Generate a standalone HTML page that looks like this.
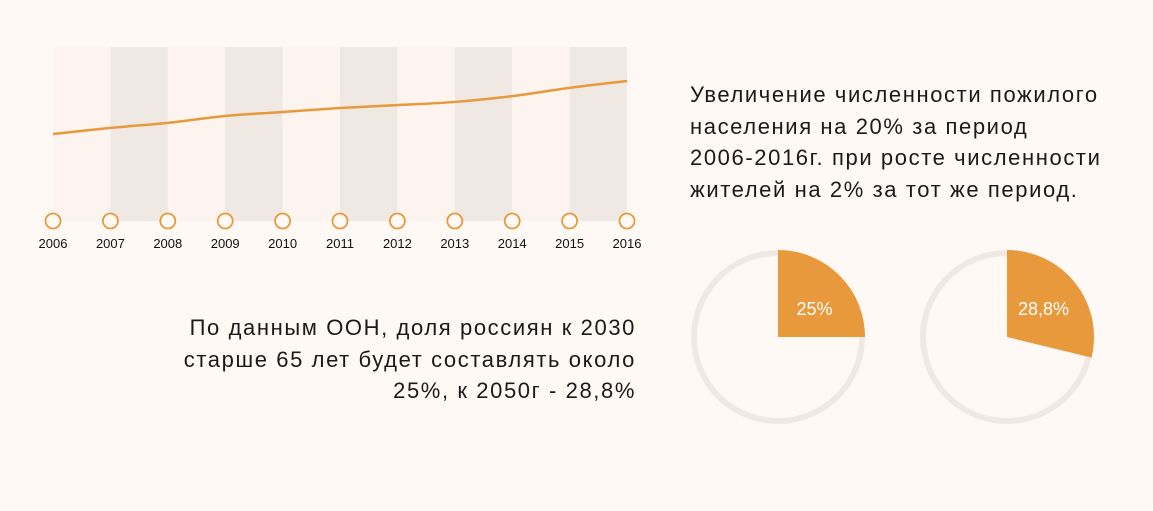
<!DOCTYPE html>
<html><head><meta charset="utf-8"><style>
body{margin:0;width:1153px;height:511px;background:#fff9f6;font-family:"Liberation Sans",sans-serif;overflow:hidden;position:relative}
.t{position:absolute;font-size:22px;line-height:31.5px;color:#1a1a1a;white-space:nowrap;letter-spacing:1.6px}
</style></head><body>
<svg id="c" width="1153" height="511" style="position:absolute;left:0;top:0"></svg>
<div class="t" style="left:690px;top:79px">Увеличение численности пожилого<br>населения на 20% за период<br>2006-2016г. при росте численности<br>жителей на 2% за тот же период.</div>
<div class="t" style="right:517px;top:312px;text-align:right">По данным ООН, доля россиян к 2030<br>старше 65 лет будет составлять около<br>25%, к 2050г - 28,8%</div>
<script>
const years=[2006,2007,2008,2009,2010,2011,2012,2013,2014,2015,2016];
const values=[100,102.3,104.2,106.8,108.3,109.8,110.9,112.1,114.3,117.4,120];
const pieValues=[25,28.8];
const pieLabels=["25%","28,8%"];
const NS="http://www.w3.org/2000/svg",svg=document.getElementById('c');
function mk(t,a){const e=document.createElementNS(NS,t);for(const k in a)e.setAttribute(k,a[k]);svg.appendChild(e);return e;}
const x0=53,x1=627,yTop=47,yBot=221;
const xs=i=>x0+(x1-x0)*i/(years.length-1);
const ys=v=>134-(v-100)*2.65;
for(let i=0;i<years.length-1;i++){
 const r=mk('rect',{x:xs(i),y:yTop,width:xs(i+1)-xs(i),height:yBot-yTop,fill:i%2?'#f0e8e2':'#fdf4ef'});
 
 
}
const pts=values.map((v,i)=>[xs(i),ys(v)]);
let d='M'+pts[0][0]+' '+pts[0][1];
for(let i=0;i<pts.length-1;i++){
 const p0=pts[Math.max(0,i-1)],p1=pts[i],p2=pts[i+1],p3=pts[Math.min(pts.length-1,i+2)];
 const c1=[p1[0]+(p2[0]-p0[0])/6,p1[1]+(p2[1]-p0[1])/6],c2=[p2[0]-(p3[0]-p1[0])/6,p2[1]-(p3[1]-p1[1])/6];
 d+=` C${c1[0]} ${c1[1]} ${c2[0]} ${c2[1]} ${p2[0]} ${p2[1]}`;
}
const ln=mk('path',{d:d,fill:'none',stroke:'#e8993c','stroke-width':2.5});


years.forEach((yr,i)=>{
 const c=mk('circle',{cx:xs(i),cy:yBot,r:7.5,fill:'#fff9f6',stroke:'#e8993c','stroke-width':1.8});
 
 
 const t=mk('text',{x:xs(i),y:yBot+27,'text-anchor':'middle','font-size':13,fill:'#111','font-family':'Liberation Sans, sans-serif'});
 t.textContent=yr;
 
 
});
const centers=[778,1007],cy=337,R=87;
pieValues.forEach((p,i)=>{
 const cx=centers[i];
 const ring=mk('circle',{cx:cx,cy:cy,r:R-3,fill:'none',stroke:'#f0e8e2','stroke-width':6});
 
 
 const a=p/100*2*Math.PI;
 const ex=cx+R*Math.sin(a),ey=cy-R*Math.cos(a);
 const w=mk('path',{d:`M${cx} ${cy} L${cx} ${cy-R} A${R} ${R} 0 ${p>50?1:0} 1 ${ex} ${ey} Z`,fill:'#e8993c'});
 
 
 const t=mk('text',{x:cx+R*0.42,y:cy-22,'text-anchor':'middle','font-size':18,fill:'#fff','font-family':'Liberation Sans, sans-serif'});
 t.textContent=pieLabels[i];
 
 
});
</script>
</body></html>
